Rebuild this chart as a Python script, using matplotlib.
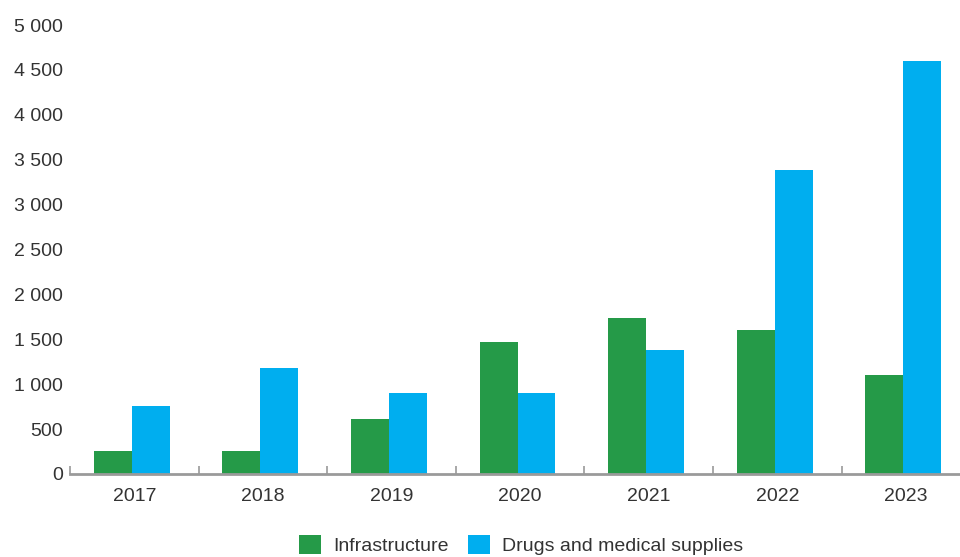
import matplotlib
matplotlib.use("Agg")
import matplotlib.pyplot as plt
import numpy as np
from matplotlib.patches import Patch
from matplotlib.ticker import FuncFormatter

years = ["2017", "2018", "2019", "2020", "2021", "2022", "2023"]
infrastructure = [260, 260, 610, 1470, 1740, 1600, 1100]
drugs = [760, 1180, 900, 900, 1380, 3390, 4600]
series_names = ["Infrastructure", "Drugs and medical supplies"]
yticks = [0, 500, 1000, 1500, 2000, 2500, 3000, 3500, 4000, 4500, 5000]

GREEN = "#259A48"
BLUE = "#00AEEF"
TEXT = "#333333"
AXIS = "#9a9a9a"

plt.rcParams['font.family'] = ['Liberation Sans', 'DejaVu Sans']

W, H = 960, 557
fig = plt.figure(figsize=(W/100, H/100), dpi=100)
ax = fig.add_axes([70/W, 83/H, 890/W, 449/H])

x = np.arange(len(years))
bw = 0.295
ax.bar(x - bw/2 - 0.02, infrastructure, width=bw, color=GREEN)
ax.bar(x + bw/2 - 0.02, drugs, width=bw, color=BLUE)

ax.set_xlim(-0.5, -0.5 + 890/128.6)
ax.set_ylim(0, 5000)

FS = 14
ax.set_yticks(yticks)
ax.yaxis.set_major_formatter(FuncFormatter(lambda v, p: f"{int(v):,}".replace(",", " ")))
ax.tick_params(axis='y', length=0, pad=5, labelsize=FS, labelcolor=TEXT)

ax.set_xticks(x)
ax.set_xticklabels(years)
ax.tick_params(axis='x', length=0, pad=10, labelsize=FS, labelcolor=TEXT)
ax.set_xticks(np.arange(len(years)) - 0.5, minor=True)
ax.tick_params(axis='x', which='minor', direction='in', length=6, width=1.2, color=AXIS)

for s in ['left', 'right', 'top']:
    ax.spines[s].set_visible(False)
ax.spines['bottom'].set_color(AXIS)
ax.spines['bottom'].set_linewidth(2)

handles = [Patch(facecolor=GREEN, label=series_names[0]),
           Patch(facecolor=BLUE, label=series_names[1])]
leg = fig.legend(handles=handles, loc='center', bbox_to_anchor=(521/W, 1 - 545/H),
                 ncol=2, frameon=False, fontsize=FS, handlelength=1.15, handleheight=1.15,
                 handletextpad=0.6, columnspacing=1.0)
for t in leg.get_texts():
    t.set_color(TEXT)

fig.savefig("out.png", dpi=100)
